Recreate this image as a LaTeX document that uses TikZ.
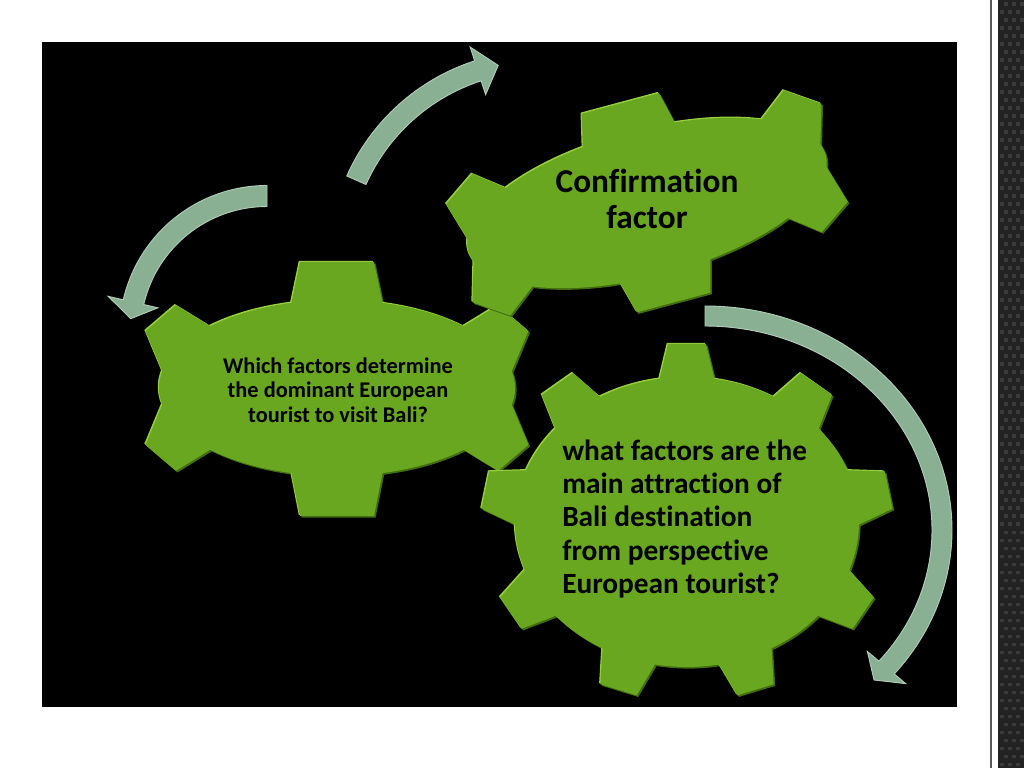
\documentclass[tikz,border=0pt]{standalone}
\usepackage{fontspec}
\setmainfont{Carlito}[Ligatures=NoCommon]
\usetikzlibrary{calc}
\definecolor{gearG}{RGB}{106,167,32}
\definecolor{gearHi}{RGB}{150,208,62}
\definecolor{gearLo}{RGB}{66,108,16}
\definecolor{arrG}{RGB}{138,176,147}
\definecolor{arrEdge}{RGB}{176,204,183}
\definecolor{carbon}{RGB}{34,34,34}
\definecolor{carbonHi}{RGB}{58,58,58}
\definecolor{sepLine}{RGB}{90,90,90}
\tikzset{
  arrowshape/.style={fill=arrG, draw=arrEdge, line width=0.7pt, line join=miter},
  gtext/.style={text=black, inner sep=0pt, font=\bfseries},
}
\newcommand\gearfig[6]{%
  \foreach \gCol/\gDx/\gDy in {gearLo/1.6/-1.6,gearHi/-1.2/1.2,gearG/0/0}{%
    \begin{scope}[shift={({#1+\gDx},{#2+\gDy})},rotate=#3]
      \fill[\gCol] (0,0) ellipse [x radius=#4, y radius=#5];
      \foreach \gT/\gA/\gB/\gH in {#6}{%
        \pgfmathsetmacro\gAng{atan2(sin(\gT)/#5,cos(\gT)/#4)}%
        \pgfmathsetmacro\gW{\gB+12*(\gB-\gA)/\gH}%
        \begin{scope}[shift={(\gT:#4 and #5)},rotate=\gAng]
          \fill[\gCol] (-12,-\gW) -- (\gH,-\gA) -- (\gH,\gA) -- (-12,\gW) -- cycle;
        \end{scope}
      }
    \end{scope}
  }%
}
\begin{document}
\begin{tikzpicture}[x=0.75pt,y=0.75pt]
\useasboundingbox (0,0) rectangle (1024,768);
\fill[white] (0,0) rectangle (1024,768);
% black panel
\fill[black] (42,61) rectangle (957,726);
% right decorative strip
\draw[sepLine, line width=1.2pt] (991,0) -- (991,768);
\fill[carbon] (998,0) rectangle (1024,768);
\foreach \i in {0,...,95}{\foreach \j in {0,1,2}{%
  \fill[carbonHi] ({1000+\j*8+mod(\i,2)*4},{\i*8+2}) rectangle ++(3.5,3.5);}}
% gears
\gearfig{337}{380}{0}{178}{88}{90/37/45/38,270/37/45/40,30/20/31/34,150/20/31/34,210/20/31/34,330/20/31/34}
\gearfig{647}{565}{15}{185}{73}{90/40/47/30,270/38/46/30,30/20/30/31,150/20/30/31,210/20/30/31,330/20/30/31}
\gearfig{687}{246}{0}{172}{145}{90/19/27/33,130/19/27/33,170/19/27/33,210/19/27/33,250/19/27/33,290/19/27/33,330/19/27/33,10/19/27/33,50/19/27/33}
% texts
\node[gtext, align=center, font=\bfseries\fontsize{16.8}{18.4}\selectfont] (q1) at (338,378) {Which factors determine\\the dominant European\\tourist to visit Bali?};
\node[gtext, align=center, font=\bfseries\fontsize{25}{27}\selectfont] (q2) at (647,569) {Confirmation\\factor};
\node[gtext, align=left, anchor=west, font=\bfseries\fontsize{22}{25}\selectfont] (q3) at (562,249) {what factors are the\\main attraction of\\Bali destination\\from perspective\\European tourist?};
% arrows
\coordinate (c1) at (267,435);
\coordinate (c2) at (540,506);
\coordinate (c3) at (705,238);
\fill[arrowshape] ($(c1)+(90:147.5)$) arc[start angle=90, end angle=167, radius=147.5]
  -- ($(c1)+(167:163)$) -- ($(c1)+(174:137)$) -- ($(c1)+(167:112)$)
  -- ($(c1)+(167:126.5)$) arc[start angle=167, end angle=90, radius=126.5] -- cycle;
\draw[arrowshape] ($(c2)+(156:211.5)$) arc[start angle=156, end angle=108, radius=211.5]
  -- ($(c2)+(108:226)$) -- ($(c2)+(102:201)$) -- ($(c2)+(108:176)$)
  -- ($(c2)+(108:190.5)$) arc[start angle=108, end angle=156, radius=190.5] -- cycle;
\draw[arrowshape] ($(c3)+(90:247 and 224)$) arc[start angle=90, end angle=-40, x radius=247, y radius=224]
  -- ($(c3)+(-40:262 and 239)$) -- ($(c3)+(-44.5:237 and 214)$) -- ($(c3)+(-40:212 and 189)$)
  -- ($(c3)+(-40:227 and 204)$) arc[start angle=-40, end angle=90, x radius=227, y radius=204] -- cycle;
\end{tikzpicture}
\end{document}
